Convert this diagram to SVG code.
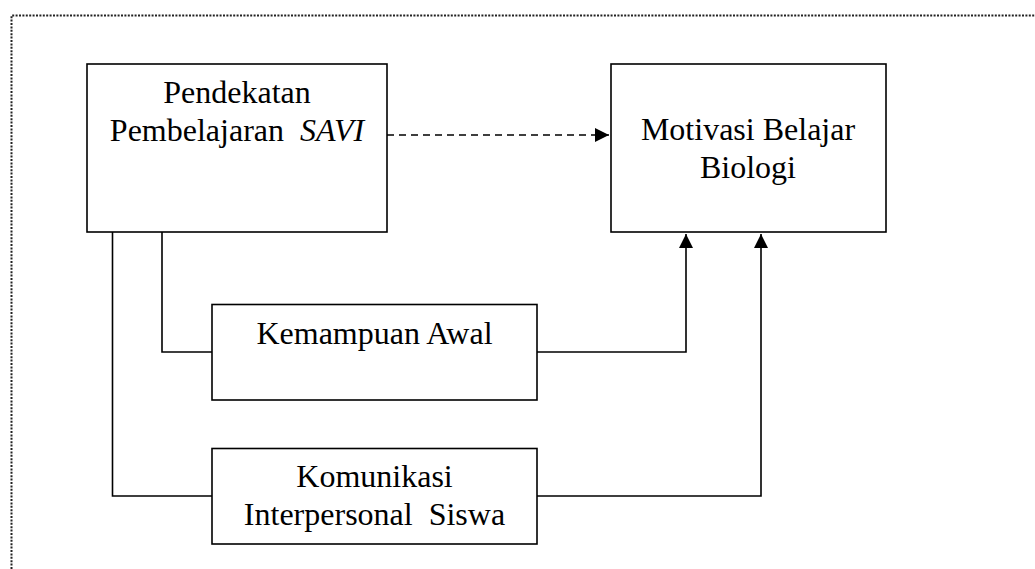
<svg xmlns="http://www.w3.org/2000/svg" width="1035" height="569" viewBox="0 0 1035 569">
<style>
.box{fill:#fff;stroke:#000;stroke-width:1.6}
.ln{fill:none;stroke:#000;stroke-width:1.6}
.dash{fill:none;stroke:#000;stroke-width:1.7;stroke-dasharray:7 5}
.t{font-family:"Liberation Serif","Times New Roman",serif;font-size:32px;fill:#000;text-anchor:middle}
.frame{fill:none;stroke:#222;stroke-width:2;stroke-dasharray:2 1.4}
</style>
<defs>
<marker id="ah" markerWidth="14" markerHeight="14" refX="14" refY="7" orient="auto" markerUnits="userSpaceOnUse">
<path d="M0,0 L14,7 L0,14 Z" fill="#000"/>
</marker>
</defs>
<path class="frame" d="M11.5,569 L11.5,15.5 L1035,15.5"/>
<g id="connectors">
<path class="dash" d="M387,135 L609,135" marker-end="url(#ah)"/>
<path class="ln" d="M162,232 L162,352 L212,352"/>
<path class="ln" d="M537,352 L686,352 L686,234" marker-end="url(#ah)"/>
<path class="ln" d="M112.5,232 L112.5,496 L212,496"/>
<path class="ln" d="M537,496 L761,496 L761,234" marker-end="url(#ah)"/>
</g>
<g id="node-savi">
<rect class="box" x="87" y="64" width="300" height="168"/>
<text class="t" x="237" y="103">Pendekatan</text>
<text class="t" x="237" y="141">Pembelajaran <tspan dx="8" font-style="italic">SAVI</tspan></text>
</g>
<g id="node-motivasi">
<rect class="box" x="611" y="64" width="275" height="168"/>
<text class="t" x="748" y="140">Motivasi Belajar</text>
<text class="t" x="748" y="178">Biologi</text>
</g>
<g id="node-kemampuan">
<rect class="box" x="212" y="304.5" width="325" height="95.5"/>
<text class="t" x="374.5" y="344">Kemampuan Awal</text>
</g>
<g id="node-komunikasi">
<rect class="box" x="212" y="448.5" width="325" height="95.5"/>
<text class="t" x="374.5" y="487">Komunikasi</text>
<text class="t" x="374.5" y="525">Interpersonal <tspan dx="8">Siswa</tspan></text>
</g>
</svg>
